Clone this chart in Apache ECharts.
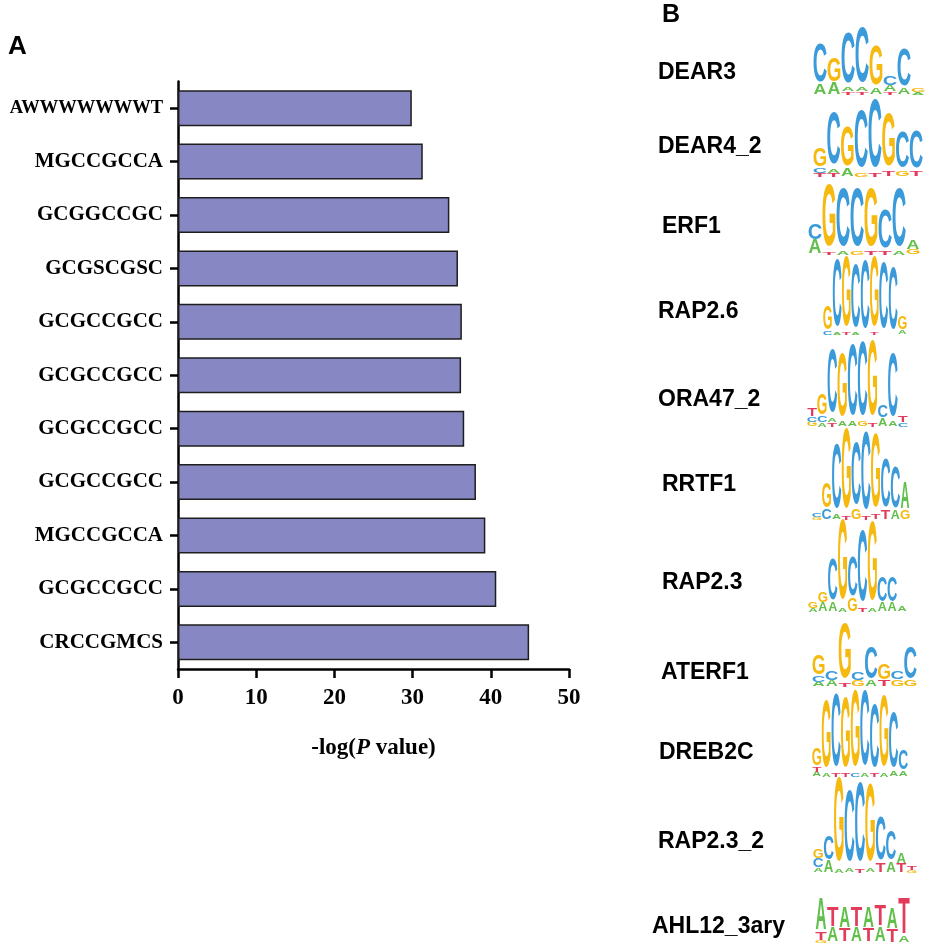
<!DOCTYPE html>
<html>
<head>
<meta charset="utf-8">
<script src="https://cdn.jsdelivr.net/npm/echarts@6/dist/echarts.min.js"></script>
<style>
  html, body { margin: 0; padding: 0; background: #fff; }
  #main { width: 930px; height: 949px; }
</style>
</head>
<body>
<div id="main"></div>
<script>
// panel A data
var motifs = ['AWWWWWWWT', 'MGCCGCCA', 'GCGGCCGC', 'GCGSCGSC', 'GCGCCGCC', 'GCGCCGCC',
              'GCGCCGCC', 'GCGCCGCC', 'MGCCGCCA', 'GCGCCGCC', 'CRCCGMCS'];
var logP = [29.9, 31.3, 34.7, 35.8, 36.3, 36.2, 36.6, 38.1, 39.3, 40.7, 44.9];
var xTicks = [0, 10, 20, 30, 40, 50];

// panel B: factor names and their logos (columns, letters from bottom to top with relative height)
var factors = ['DEAR3', 'DEAR4_2', 'ERF1', 'RAP2.6', 'ORA47_2', 'RRTF1',
               'RAP2.3', 'ATERF1', 'DREB2C', 'RAP2.3_2', 'AHL12_3ary'];
var logoDEAR3 = [[['A',.16],['C',.6]], [['A',.18],['G',.38]], [['T',.05],['A',.07],['C',.8]],
  [['T',.05],['A',.07],['C',.88]], [['A',.1],['G',.62]], [['T',.05],['A',.1],['C',.14]],
  [['A',.1],['C',.58]], [['A',.04],['G',.06]]];
var logoDEAR4_2 = [[['T',.05],['C',.08],['G',.25]], [['T',.05],['A',.06],['C',.71]],
  [['A',.1],['G',.55]], [['G',.06],['C',.79]], [['T',.05],['C',.95]], [['T',.08],['G',.74]],
  [['G',.08],['C',.5]], [['T',.08],['C',.52]]];
var logoERF1 = [[['A',.22],['C',.25]], [['T',.04],['G',.96]], [['A',.05],['C',.9]],
  [['G',.05],['C',.9]], [['T',.05],['G',.9]], [['T',.05],['C',.6]], [['A',.05],['C',.9]],
  [['G',.08],['A',.15]]];
var logoRAP2_6 = [[['C',.05],['G',.32]], [['A',.03],['C',.92]], [['T',.03],['G',.97]],
  [['A',.03],['C',.87]], [['C',.95]], [['T',.03],['G',.97]], [['C',.9]], [['C',.85]],
  [['A',.06],['G',.18]]];
var logoORA47_2 = [[['G',.06],['C',.06],['T',.1]], [['A',.05],['C',.08],['G',.25]],
  [['T',.05],['A',.05],['C',.78]], [['A',.06],['G',.78]], [['A',.06],['C',.88]],
  [['G',.06],['C',.9]], [['T',.05],['G',.93]], [['A',.1],['C',.14]], [['A',.06],['C',.78]],
  [['C',.05],['T',.08]]];
var logoRRTF1 = [[['G',.03],['C',.05]], [['C',.12],['G',.29]], [['A',.06],['C',.76]],
  [['T',.04],['G',.96]], [['G',.12],['C',.73]], [['T',.04],['C',.92]], [['T',.06],['G',.88]],
  [['T',.1],['C',.57]], [['A',.1],['C',.49]], [['G',.1],['A',.31]]];
var logoRAP2_3 = [[['A',.04],['G',.07]], [['A',.1],['G',.12]], [['A',.1],['C',.49]],
  [['A',.05],['G',.95]], [['G',.15],['C',.46]], [['T',.05],['C',.84]], [['A',.05],['G',.93]],
  [['A',.1],['C',.3]], [['A',.1],['C',.3]], [['A',.06]]];
var logoATERF1 = [[['A',.08],['C',.1],['G',.33]], [['A',.1],['C',.15]], [['T',.06],['G',.94]],
  [['G',.1],['C',.14]], [['A',.1],['C',.53]], [['T',.1],['G',.26]], [['G',.12],['C',.13]],
  [['G',.1],['C',.53]]];
var logoDREB2C = [[['A',.06],['T',.06],['G',.22]], [['A',.04],['G',.84]], [['T',.04],['C',.92]],
  [['T',.04],['G',.88]], [['C',.04],['G',.96]], [['A',.05],['C',.95]], [['T',.05],['C',.79]],
  [['A',.05],['G',.9]], [['A',.06],['C',.69]], [['A',.07],['C',.24]]];
var logoRAP2_3_2 = [[['A',.05],['C',.1],['G',.1]], [['A',.13],['C',.27]], [['A',.04],['G',.94]],
  [['A',.05],['C',.8]], [['T',.04],['C',.88]], [['A',.05],['G',.87]], [['T',.1],['C',.49]],
  [['A',.12],['C',.32]], [['T',.1],['A',.12]], [['G',.03],['T',.05]]];
var logoAHL12 = [[['G',.06],['T',.18],['A',.74]], [['A',.35],['T',.45]], [['T',.32],['A',.5]],
  [['A',.35],['T',.45]], [['T',.32],['A',.48]], [['A',.35],['T',.5]], [['T',.3],['A',.5]],
  [['A',.15],['T',.82]]];
var logos = [logoDEAR3, logoDEAR4_2, logoERF1, logoRAP2_6, logoORA47_2, logoRRTF1,
             logoRAP2_3, logoATERF1, logoDREB2C, logoRAP2_3_2, logoAHL12];

// layout of panel B: [name x, name y, logo left, logo right, logo top, logo bottom]
var boxes = [
  [658, 73, 813, 925, 32, 95],
  [658, 147, 813, 923, 105, 177],
  [662, 227, 808, 920, 190, 255],
  [658, 312, 823, 907, 262, 335],
  [658, 400, 807, 908, 345, 427],
  [662, 485, 812, 910, 435, 520],
  [662, 583, 808, 907, 527, 612],
  [661, 673, 812, 917, 628, 687],
  [659, 753, 812, 908, 697, 777],
  [658, 842, 813, 917, 783, 873],
  [652, 927, 815, 910, 900, 943]
];
var letterColor = { A: '#63bf4b', C: '#3b9ada', G: '#f6b910', T: '#e33b5c' };
var letterInk = { A: 0.72, C: 0.64, G: 0.68, T: 0.58 };

var graphics = [
  { type: 'text', left: 8, top: 34, style: { text: 'A', font: 'bold 26px "Liberation Sans", Arial', fill: '#000' } },
  { type: 'text', left: 662, top: 3, style: { text: 'B', font: 'bold 25px "Liberation Sans", Arial', fill: '#000' } }
];
var F = 100;
factors.forEach(function (name, k) {
  var b = boxes[k];
  graphics.push({
    type: 'text', x: b[0], y: b[1],
    style: { text: name, font: 'bold 23px "Liberation Sans", Arial', fill: '#000',
             textAlign: 'left', textVerticalAlign: 'middle' }
  });
  var cols = logos[k];
  var w = (b[3] - b[2]) / cols.length;
  var H = b[5] - b[4];
  cols.forEach(function (col, i) {
    var y = b[5];
    col.forEach(function (item) {
      var L = item[0], h = item[1] * H;
      graphics.push({
        type: 'text', silent: true,
        x: b[2] + (i + 0.5) * w, y: y - h / 2,
        scaleX: 0.92 * w / (letterInk[L] * F),
        scaleY: h / (0.716 * F),
        style: { text: L, font: 'bold ' + F + 'px "Liberation Sans", Arial', fill: letterColor[L],
                 textAlign: 'center', textVerticalAlign: 'middle' }
      });
      y -= h;
    });
  });
});

var serif = '"Liberation Serif", "Times New Roman", serif';
var myChart = echarts.init(document.getElementById('main'));
var option = {
  animation: false,
  backgroundColor: '#fff',
  grid: { left: 178, top: 81.5, width: 391, height: 587.5, containLabel: false, outerBoundsMode: 'none' },
  xAxis: {
    type: 'value',
    min: xTicks[0],
    max: xTicks[xTicks.length - 1],
    interval: xTicks[1] - xTicks[0],
    name: '-log({i|P} value)',
    nameLocation: 'middle',
    nameGap: 68,
    nameTextStyle: {
      fontFamily: serif, fontWeight: 'bold', fontSize: 23, color: '#000',
      rich: { i: { fontFamily: serif, fontWeight: 'bold', fontStyle: 'italic', fontSize: 23, color: '#000' } }
    },
    axisLine: { show: true, lineStyle: { color: '#000', width: 2.5 } },
    axisTick: { show: true, length: 9, lineStyle: { color: '#000', width: 2.5 } },
    axisLabel: { fontFamily: serif, fontWeight: 'bold', fontSize: 23, color: '#000', margin: 18 },
    splitLine: { show: false }
  },
  yAxis: {
    type: 'category',
    data: motifs,
    inverse: true,
    axisLine: { show: true, lineStyle: { color: '#000', width: 2.5 } },
    axisTick: { show: true, alignWithLabel: true, length: 8, lineStyle: { color: '#000', width: 2.5 } },
    axisLabel: {
      fontFamily: serif, fontWeight: 'bold', fontSize: 21, color: '#000', margin: 15,
      formatter: function (v) { return v.indexOf('W') >= 0 ? '{w|' + v + '}' : v; },
      rich: { w: { fontFamily: serif, fontWeight: 'bold', fontSize: 18.5, color: '#000' } }
    }
  },
  series: [{
    type: 'bar',
    data: logP,
    barWidth: 36,
    itemStyle: { color: '#8788c3', borderColor: '#1e1e1e', borderWidth: 1.5 }
  }],
  graphic: graphics
};
myChart.setOption(option);
</script>
</body>
</html>
